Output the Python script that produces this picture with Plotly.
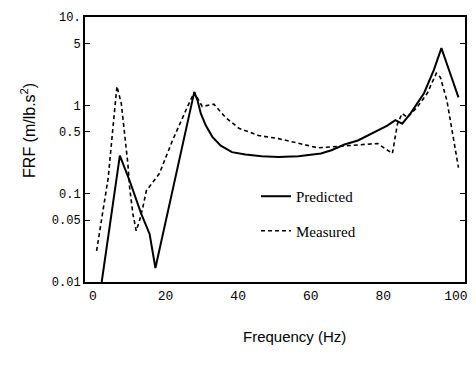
import plotly.graph_objects as go

# Predicted (solid) FRF
pred_f = [2.4, 7.4, 10.1, 13.3, 15.6, 17.2, 27.9, 28.8, 29.7, 31.1, 32.9, 35.2, 38.3, 42.0, 46.5, 51.1, 56.6, 62.8, 65.7, 69.3, 73.0, 75.7, 78.4, 81.1, 83.3, 85.2, 87.5, 91.2, 93.9, 96.0, 98.4, 100.7]
pred_v = [0.01, 0.27, 0.14, 0.059, 0.035, 0.0144, 1.41, 1.14, 0.81, 0.59, 0.44, 0.35, 0.295, 0.277, 0.265, 0.26, 0.265, 0.285, 0.31, 0.36, 0.40, 0.456, 0.51, 0.59, 0.68, 0.62, 0.81, 1.37, 2.5, 4.45, 2.31, 1.23]

# Measured (dashed) FRF
meas_f = [1.0, 4.2, 5.5, 6.6, 7.8, 8.6, 9.6, 10.1, 11.0, 11.9, 12.8, 13.7, 14.7, 18.3, 21.9, 25.6, 27.9, 30.1, 33.3, 36.5, 40.2, 45.6, 51.1, 62.0, 69.3, 78.4, 82.5, 83.9, 85.2, 86.6, 89.3, 92.1, 94.6, 95.7, 97.5, 99.4, 100.7]
meas_v = [0.0225, 0.152, 0.56, 1.64, 1.05, 0.56, 0.22, 0.117, 0.059, 0.038, 0.049, 0.069, 0.108, 0.169, 0.4, 0.88, 1.41, 0.97, 1.03, 0.73, 0.55, 0.456, 0.42, 0.33, 0.35, 0.37, 0.285, 0.62, 0.81, 0.73, 0.95, 1.37, 2.31, 2.08, 1.14, 0.4, 0.197]

x_ticks = [0, 20, 40, 60, 80, 100]
y_ticks = [0.01, 0.05, 0.1, 0.5, 1, 5, 10]
y_tick_text = ["0.01", "0.05", "0.1", "0.5", "1", "5", "10."]

fig = go.Figure()
fig.add_trace(go.Scatter(x=pred_f, y=pred_v, mode="lines", name="Predicted",
                         line=dict(color="black", width=2), legendgroup="a"))
fig.add_trace(go.Scatter(x=meas_f, y=meas_v, mode="lines", name="Measured",
                         line=dict(color="black", width=1.6, dash="4px,3px"), legendgroup="b"))

fig.update_layout(
    width=476, height=368,
    margin=dict(l=85, r=8, t=17, b=86),
    paper_bgcolor="white", plot_bgcolor="white",
    showlegend=True,
    legend=dict(x=0.45, y=0.385, xanchor="left", yanchor="top",
                font=dict(family="Liberation Serif", size=15, color="black"),
                tracegroupgap=12, bgcolor="rgba(0,0,0,0)"),
    xaxis=dict(range=[-2.2, 102.5], tickvals=x_ticks, ticks="", showgrid=False, zeroline=False,
               showline=True, linecolor="black", linewidth=2, mirror=True,
               tickfont=dict(family="Liberation Mono", size=13, color="black")),
    yaxis=dict(type="log", range=[-2, 1], tickvals=y_ticks, ticktext=y_tick_text,
               ticks="inside", ticklen=5, tickcolor="black", showgrid=False, zeroline=False,
               showline=True, linecolor="black", linewidth=2, mirror="ticks",
               tickfont=dict(family="Liberation Mono", size=12, color="black")),
    annotations=[
        dict(text="Frequency (Hz)", xref="paper", yref="paper", x=0.55, y=-0.205,
             xanchor="center", yanchor="middle", showarrow=False,
             font=dict(family="Liberation Sans", size=15, color="black")),
        dict(text="FRF (m/lb.s<sup>2</sup>)", xref="paper", yref="paper", x=-0.15, y=0.57,
             xanchor="center", yanchor="middle", textangle=-90, showarrow=False,
             font=dict(family="Liberation Sans", size=16, color="black")),
    ],
)

fig.write_html("out.html")
